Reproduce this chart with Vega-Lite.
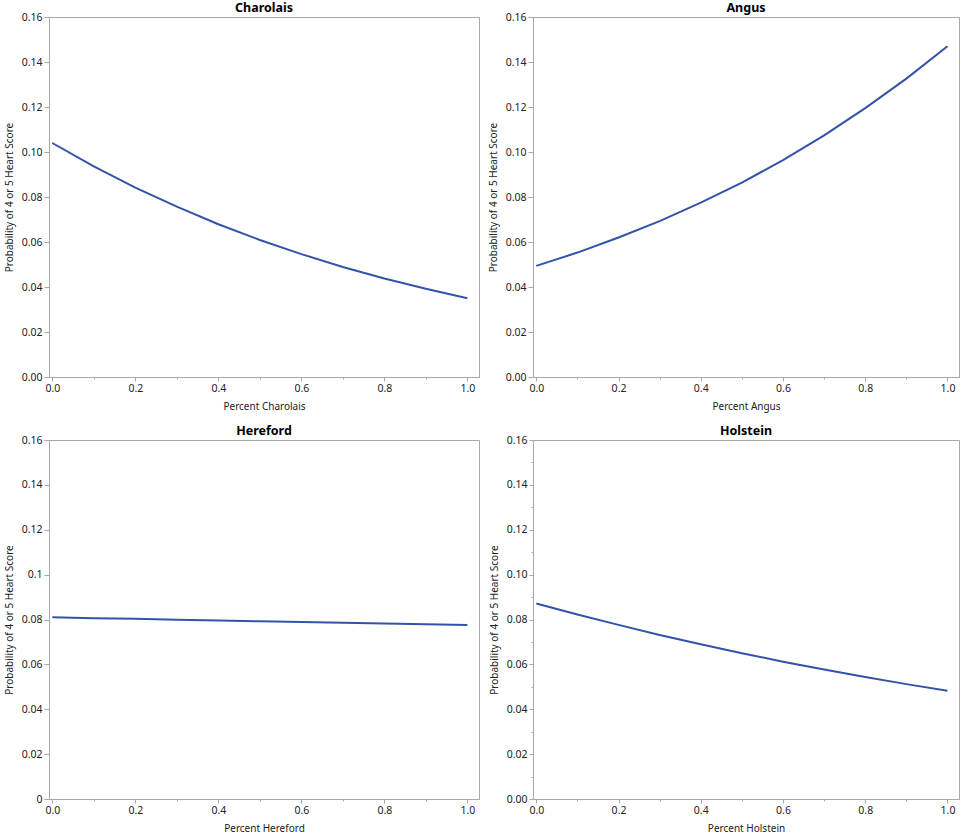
{
  "$schema": "https://vega.github.io/schema/vega-lite/v6.json",
  "background": "white",
  "padding": {"left": 3, "top": 1, "right": 0, "bottom": 0},
  "data": {
    "values": [
      {"breed": "Charolais", "pct": 0.0, "prob": 0.1040},
      {"breed": "Charolais", "pct": 0.1, "prob": 0.0936},
      {"breed": "Charolais", "pct": 0.2, "prob": 0.0842},
      {"breed": "Charolais", "pct": 0.3, "prob": 0.0757},
      {"breed": "Charolais", "pct": 0.4, "prob": 0.0679},
      {"breed": "Charolais", "pct": 0.5, "prob": 0.0609},
      {"breed": "Charolais", "pct": 0.6, "prob": 0.0546},
      {"breed": "Charolais", "pct": 0.7, "prob": 0.0489},
      {"breed": "Charolais", "pct": 0.8, "prob": 0.0438},
      {"breed": "Charolais", "pct": 0.9, "prob": 0.0392},
      {"breed": "Charolais", "pct": 1.0, "prob": 0.0350},
      {"breed": "Angus", "pct": 0.0, "prob": 0.0494},
      {"breed": "Angus", "pct": 0.1, "prob": 0.0553},
      {"breed": "Angus", "pct": 0.2, "prob": 0.0620},
      {"breed": "Angus", "pct": 0.3, "prob": 0.0693},
      {"breed": "Angus", "pct": 0.4, "prob": 0.0775},
      {"breed": "Angus", "pct": 0.5, "prob": 0.0864},
      {"breed": "Angus", "pct": 0.6, "prob": 0.0964},
      {"breed": "Angus", "pct": 0.7, "prob": 0.1074},
      {"breed": "Angus", "pct": 0.8, "prob": 0.1195},
      {"breed": "Angus", "pct": 0.9, "prob": 0.1326},
      {"breed": "Angus", "pct": 1.0, "prob": 0.1470},
      {"breed": "Hereford", "pct": 0.0, "prob": 0.0810},
      {"breed": "Hereford", "pct": 0.1, "prob": 0.0806},
      {"breed": "Hereford", "pct": 0.2, "prob": 0.0803},
      {"breed": "Hereford", "pct": 0.3, "prob": 0.0799},
      {"breed": "Hereford", "pct": 0.4, "prob": 0.0796},
      {"breed": "Hereford", "pct": 0.5, "prob": 0.0792},
      {"breed": "Hereford", "pct": 0.6, "prob": 0.0789},
      {"breed": "Hereford", "pct": 0.7, "prob": 0.0786},
      {"breed": "Hereford", "pct": 0.8, "prob": 0.0782},
      {"breed": "Hereford", "pct": 0.9, "prob": 0.0779},
      {"breed": "Hereford", "pct": 1.0, "prob": 0.0776},
      {"breed": "Holstein", "pct": 0.0, "prob": 0.0871},
      {"breed": "Holstein", "pct": 0.1, "prob": 0.0822},
      {"breed": "Holstein", "pct": 0.2, "prob": 0.0776},
      {"breed": "Holstein", "pct": 0.3, "prob": 0.0731},
      {"breed": "Holstein", "pct": 0.4, "prob": 0.0690},
      {"breed": "Holstein", "pct": 0.5, "prob": 0.0650},
      {"breed": "Holstein", "pct": 0.6, "prob": 0.0612},
      {"breed": "Holstein", "pct": 0.7, "prob": 0.0577},
      {"breed": "Holstein", "pct": 0.8, "prob": 0.0544},
      {"breed": "Holstein", "pct": 0.9, "prob": 0.0512},
      {"breed": "Holstein", "pct": 1.0, "prob": 0.0482}
    ]
  },
  "columns": 2,
  "spacing": {"column": 7, "row": 12},
  "concat": [
    {
      "title": "Charolais",
      "width": 430,
      "height": 360,
      "transform": [{"filter": "datum.breed == 'Charolais'"}],
      "mark": {"type": "line", "color": "#3353a8", "strokeWidth": 2},
      "encoding": {
        "x": {
          "field": "pct", "type": "quantitative",
          "scale": {"domain": [-0.008, 1.028], "nice": false, "zero": false},
          "axis": {
            "title": "Percent Charolais",
            "values": [0, 0.1, 0.2, 0.3, 0.4, 0.5, 0.6, 0.7, 0.8, 0.9, 1],
            "labelExpr": "round(datum.value * 10) % 2 == 1 ? '' : format(datum.value, '.1f')",
            "tickSize": {"condition": {"test": "round(datum.value * 10) % 2 == 1", "value": 2}, "value": 4}
          }
        },
        "y": {
          "field": "prob", "type": "quantitative",
          "scale": {"domain": [0, 0.16], "nice": false},
          "axis": {
            "title": "Probability of 4 or 5 Heart Score",
            "values": [0, 0.02, 0.04, 0.06, 0.08, 0.1, 0.12, 0.14, 0.16],
            "format": ".2f"
          }
        }
      }
    },
    {
      "title": "Angus",
      "width": 426,
      "height": 360,
      "transform": [{"filter": "datum.breed == 'Angus'"}],
      "mark": {"type": "line", "color": "#3353a8", "strokeWidth": 2},
      "encoding": {
        "x": {
          "field": "pct", "type": "quantitative",
          "scale": {"domain": [-0.008, 1.028], "nice": false, "zero": false},
          "axis": {
            "title": "Percent Angus",
            "values": [0, 0.1, 0.2, 0.3, 0.4, 0.5, 0.6, 0.7, 0.8, 0.9, 1],
            "labelExpr": "round(datum.value * 10) % 2 == 1 ? '' : format(datum.value, '.1f')",
            "tickSize": {"condition": {"test": "round(datum.value * 10) % 2 == 1", "value": 2}, "value": 4}
          }
        },
        "y": {
          "field": "prob", "type": "quantitative",
          "scale": {"domain": [0, 0.16], "nice": false},
          "axis": {
            "title": "Probability of 4 or 5 Heart Score",
            "values": [0, 0.02, 0.04, 0.06, 0.08, 0.1, 0.12, 0.14, 0.16],
            "format": ".2f"
          }
        }
      }
    },
    {
      "title": "Hereford",
      "width": 430,
      "height": 359,
      "transform": [{"filter": "datum.breed == 'Hereford'"}],
      "mark": {"type": "line", "color": "#3353a8", "strokeWidth": 2},
      "encoding": {
        "x": {
          "field": "pct", "type": "quantitative",
          "scale": {"domain": [-0.008, 1.028], "nice": false, "zero": false},
          "axis": {
            "title": "Percent Hereford",
            "values": [0, 0.1, 0.2, 0.3, 0.4, 0.5, 0.6, 0.7, 0.8, 0.9, 1],
            "labelExpr": "round(datum.value * 10) % 2 == 1 ? '' : format(datum.value, '.1f')",
            "tickSize": {"condition": {"test": "round(datum.value * 10) % 2 == 1", "value": 2}, "value": 4}
          }
        },
        "y": {
          "field": "prob", "type": "quantitative",
          "scale": {"domain": [0, 0.16], "nice": false},
          "axis": {
            "title": "Probability of 4 or 5 Heart Score",
            "values": [0, 0.02, 0.04, 0.06, 0.08, 0.1, 0.12, 0.14, 0.16],
            "format": "~g"
          }
        }
      }
    },
    {
      "title": "Holstein",
      "width": 426,
      "height": 359,
      "transform": [{"filter": "datum.breed == 'Holstein'"}],
      "mark": {"type": "line", "color": "#3353a8", "strokeWidth": 2},
      "encoding": {
        "x": {
          "field": "pct", "type": "quantitative",
          "scale": {"domain": [-0.008, 1.028], "nice": false, "zero": false},
          "axis": {
            "title": "Percent Holstein",
            "values": [0, 0.1, 0.2, 0.3, 0.4, 0.5, 0.6, 0.7, 0.8, 0.9, 1],
            "labelExpr": "round(datum.value * 10) % 2 == 1 ? '' : format(datum.value, '.1f')",
            "tickSize": {"condition": {"test": "round(datum.value * 10) % 2 == 1", "value": 2}, "value": 4}
          }
        },
        "y": {
          "field": "prob", "type": "quantitative",
          "scale": {"domain": [0, 0.16], "nice": false},
          "axis": {
            "title": "Probability of 4 or 5 Heart Score",
            "values": [0, 0.01, 0.02, 0.03, 0.04, 0.05, 0.06, 0.07, 0.08, 0.09, 0.1, 0.11, 0.12, 0.13, 0.14, 0.15, 0.16],
            "labelExpr": "round(datum.value * 100) % 2 == 1 ? '' : format(datum.value, '.2f')",
            "tickSize": {"condition": {"test": "round(datum.value * 100) % 2 == 1", "value": 2}, "value": 4}
          }
        }
      }
    }
  ],
  "config": {
    "font": "Noto Sans",
    "view": {"stroke": "#a8a8a8", "strokeWidth": 1},
    "title": {"fontSize": 12.5, "fontWeight": "bold", "color": "#000000", "offset": -2, "anchor": "middle"},
    "axis": {
      "grid": false,
      "domainColor": "#a8a8a8",
      "tickColor": "#a8a8a8",
      "labelColor": "#222222",
      "titleColor": "#222222",
      "labelFontSize": 10.5,
      "titleFontSize": 10,
      "titleFontWeight": "normal",
      "labelPadding": 2,
      "labelFlush": false,
      "labelOverlap": false
    },
    "axisY": {"titlePadding": 7},
    "axisX": {"titlePadding": 8}
  }
}
